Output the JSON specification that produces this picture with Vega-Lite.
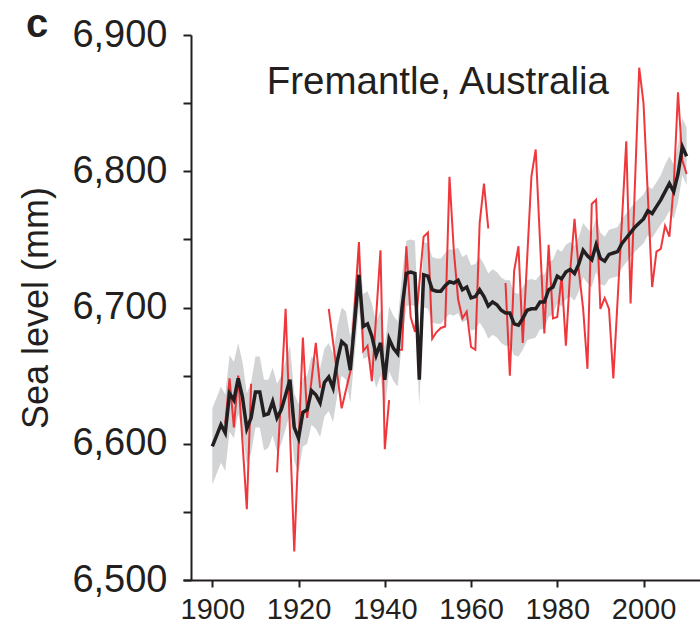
{
  "$schema": "https://vega.github.io/schema/vega-lite/v6.json",
  "width": 517,
  "height": 545,
  "autosize": {"type": "none"},
  "padding": {"left": 183, "top": 35, "right": 0, "bottom": 49},
  "background": "white",
  "title": {"text": "c", "anchor": "start", "frame": "group", "fontSize": 40, "fontWeight": "bold", "font": "Liberation Sans", "color": "#231f20", "dx": -157, "offset": -29},
  "config": {
    "view": {"stroke": null},
    "font": "Liberation Sans",
    "axis": {"grid": false, "domainColor": "#231f20", "tickColor": "#231f20", "labelColor": "#231f20", "titleColor": "#231f20", "labelFont": "Liberation Sans", "titleFont": "Liberation Sans"}
  },
  "datasets": {
    "recon": [
      {"year":1900,"mean":6598,"lo":6570,"hi":6626},{"year":1901,"mean":6606,"lo":6578,"hi":6634},{"year":1902,"mean":6614,"lo":6586,"hi":6642},{"year":1903,"mean":6608,"lo":6580,"hi":6636},{"year":1904,"mean":6637,"lo":6609,"hi":6665},{"year":1905,"mean":6632,"lo":6604,"hi":6660},{"year":1906,"mean":6648,"lo":6622,"hi":6674},{"year":1907,"mean":6634,"lo":6608,"hi":6660},{"year":1908,"mean":6611,"lo":6585,"hi":6637},{"year":1909,"mean":6619,"lo":6593,"hi":6645},{"year":1910,"mean":6638,"lo":6612,"hi":6664},{"year":1911,"mean":6638,"lo":6612,"hi":6664},{"year":1912,"mean":6621,"lo":6595,"hi":6647},{"year":1913,"mean":6622,"lo":6597,"hi":6647},{"year":1914,"mean":6631,"lo":6606,"hi":6656},{"year":1915,"mean":6619,"lo":6594,"hi":6644},{"year":1916,"mean":6625,"lo":6600,"hi":6650},{"year":1917,"mean":6636,"lo":6611,"hi":6661},{"year":1918,"mean":6647,"lo":6622,"hi":6672},{"year":1919,"mean":6612,"lo":6587,"hi":6637},{"year":1920,"mean":6604,"lo":6579,"hi":6629},{"year":1921,"mean":6623,"lo":6598,"hi":6648},{"year":1922,"mean":6625,"lo":6600,"hi":6650},{"year":1923,"mean":6639,"lo":6614,"hi":6664},{"year":1924,"mean":6636,"lo":6611,"hi":6661},{"year":1925,"mean":6630,"lo":6605,"hi":6655},{"year":1926,"mean":6645,"lo":6620,"hi":6670},{"year":1927,"mean":6649,"lo":6624,"hi":6674},{"year":1928,"mean":6641,"lo":6616,"hi":6666},{"year":1929,"mean":6661,"lo":6636,"hi":6686},{"year":1930,"mean":6675,"lo":6650,"hi":6700},{"year":1931,"mean":6672,"lo":6647,"hi":6697},{"year":1932,"mean":6654,"lo":6630,"hi":6678},{"year":1934,"mean":6724,"lo":6700,"hi":6748},{"year":1935,"mean":6686,"lo":6662,"hi":6710},{"year":1936,"mean":6688,"lo":6664,"hi":6712},{"year":1937,"mean":6679,"lo":6655,"hi":6703},{"year":1938,"mean":6665,"lo":6641,"hi":6689},{"year":1939,"mean":6674,"lo":6650,"hi":6698},{"year":1940,"mean":6647,"lo":6625,"hi":6671},{"year":1941,"mean":6677,"lo":6653,"hi":6701},{"year":1942,"mean":6670,"lo":6646,"hi":6694},{"year":1943,"mean":6666,"lo":6642,"hi":6690},{"year":1944,"mean":6700,"lo":6676,"hi":6724},{"year":1945,"mean":6725,"lo":6701,"hi":6749},{"year":1946,"mean":6726,"lo":6702,"hi":6750},{"year":1947,"mean":6725,"lo":6701,"hi":6749},{"year":1948,"mean":6647,"lo":6628,"hi":6668},{"year":1949,"mean":6724,"lo":6700,"hi":6748},{"year":1950,"mean":6723,"lo":6699,"hi":6747},{"year":1951,"mean":6713,"lo":6689,"hi":6737},{"year":1952,"mean":6712,"lo":6688,"hi":6736},{"year":1953,"mean":6712,"lo":6688,"hi":6736},{"year":1954,"mean":6716,"lo":6692,"hi":6740},{"year":1955,"mean":6719,"lo":6695,"hi":6743},{"year":1956,"mean":6718,"lo":6694,"hi":6742},{"year":1957,"mean":6720,"lo":6696,"hi":6744},{"year":1958,"mean":6713,"lo":6689,"hi":6737},{"year":1959,"mean":6715,"lo":6691,"hi":6739},{"year":1960,"mean":6707,"lo":6683,"hi":6731},{"year":1961,"mean":6708,"lo":6684,"hi":6732},{"year":1962,"mean":6713,"lo":6689,"hi":6737},{"year":1963,"mean":6708,"lo":6684,"hi":6732},{"year":1964,"mean":6701,"lo":6677,"hi":6725},{"year":1965,"mean":6704,"lo":6680,"hi":6728},{"year":1966,"mean":6702,"lo":6678,"hi":6726},{"year":1967,"mean":6698,"lo":6674,"hi":6722},{"year":1968,"mean":6696,"lo":6672,"hi":6720},{"year":1969,"mean":6696,"lo":6672,"hi":6720},{"year":1970,"mean":6688,"lo":6665,"hi":6711},{"year":1971,"mean":6687,"lo":6664,"hi":6710},{"year":1972,"mean":6692,"lo":6669,"hi":6715},{"year":1973,"mean":6698,"lo":6676,"hi":6720},{"year":1974,"mean":6699,"lo":6677,"hi":6721},{"year":1975,"mean":6699,"lo":6678,"hi":6720},{"year":1976,"mean":6704,"lo":6684,"hi":6724},{"year":1977,"mean":6704,"lo":6684,"hi":6724},{"year":1978,"mean":6713,"lo":6693,"hi":6733},{"year":1979,"mean":6715,"lo":6695,"hi":6735},{"year":1980,"mean":6723,"lo":6703,"hi":6743},{"year":1981,"mean":6721,"lo":6701,"hi":6741},{"year":1982,"mean":6726,"lo":6706,"hi":6746},{"year":1983,"mean":6728,"lo":6708,"hi":6748},{"year":1984,"mean":6725,"lo":6705,"hi":6745},{"year":1985,"mean":6732,"lo":6712,"hi":6752},{"year":1986,"mean":6742,"lo":6722,"hi":6762},{"year":1987,"mean":6738,"lo":6718,"hi":6758},{"year":1988,"mean":6735,"lo":6715,"hi":6755},{"year":1989,"mean":6746,"lo":6726,"hi":6766},{"year":1990,"mean":6736,"lo":6717,"hi":6755},{"year":1991,"mean":6734,"lo":6716,"hi":6752},{"year":1992,"mean":6739,"lo":6721,"hi":6757},{"year":1993,"mean":6740,"lo":6722,"hi":6758},{"year":1994,"mean":6741,"lo":6723,"hi":6759},{"year":1995,"mean":6747,"lo":6729,"hi":6765},{"year":1996,"mean":6751,"lo":6733,"hi":6769},{"year":1997,"mean":6755,"lo":6737,"hi":6773},{"year":1998,"mean":6759,"lo":6741,"hi":6777},{"year":1999,"mean":6762,"lo":6744,"hi":6780},{"year":2000,"mean":6765,"lo":6747,"hi":6783},{"year":2001,"mean":6771,"lo":6753,"hi":6789},{"year":2002,"mean":6769,"lo":6751,"hi":6787},{"year":2003,"mean":6774,"lo":6756,"hi":6792},{"year":2004,"mean":6779,"lo":6761,"hi":6797},{"year":2005,"mean":6785,"lo":6765,"hi":6805},{"year":2006,"mean":6791,"lo":6771,"hi":6811},{"year":2007,"mean":6785,"lo":6765,"hi":6805},{"year":2008,"mean":6798,"lo":6777,"hi":6819},{"year":2009,"mean":6818,"lo":6797,"hi":6839},{"year":2010,"mean":6811,"lo":6790,"hi":6832}
    ],
    "obs": [
      {"year":1903,"level":6615,"run":1},{"year":1904,"level":6648,"run":1},{"year":1905,"level":6612,"run":1},{"year":1906,"level":6650,"run":1},{"year":1908,"level":6552,"run":1},{"year":1909,"level":6644,"run":1},
      {"year":1915,"level":6579,"run":2},{"year":1917,"level":6699,"run":2},{"year":1919,"level":6521,"run":2},{"year":1921,"level":6678,"run":2},{"year":1922,"level":6619,"run":2},{"year":1924,"level":6674,"run":2},{"year":1925,"level":6641,"run":2},
      {"year":1927,"level":6699,"run":3},{"year":1930,"level":6626,"run":3},{"year":1932,"level":6653,"run":3},{"year":1934,"level":6748,"run":3},{"year":1935,"level":6668,"run":3},{"year":1936,"level":6672,"run":3},{"year":1937,"level":6646,"run":3},{"year":1939,"level":6742,"run":3},{"year":1940,"level":6596,"run":3},{"year":1941,"level":6632,"run":3},
      {"year":1943,"level":6669,"run":4},{"year":1944,"level":6669,"run":4},{"year":1945,"level":6745,"run":4},{"year":1946,"level":6693,"run":4},{"year":1947,"level":6682,"run":4},{"year":1949,"level":6752,"run":4},{"year":1950,"level":6755,"run":4},{"year":1951,"level":6677,"run":4},{"year":1952,"level":6682,"run":4},{"year":1953,"level":6685,"run":4},{"year":1954,"level":6686,"run":4},{"year":1955,"level":6796,"run":4},{"year":1956,"level":6742,"run":4},{"year":1957,"level":6706,"run":4},{"year":1958,"level":6692,"run":4},{"year":1959,"level":6697,"run":4},{"year":1960,"level":6671,"run":4},{"year":1961,"level":6669,"run":4},{"year":1962,"level":6762,"run":4},{"year":1963,"level":6791,"run":4},{"year":1964,"level":6758,"run":4},
      {"year":1968,"level":6718,"run":5},{"year":1969,"level":6650,"run":5},{"year":1970,"level":6727,"run":5},{"year":1971,"level":6745,"run":5},{"year":1972,"level":6674,"run":5},{"year":1974,"level":6796,"run":5},{"year":1975,"level":6816,"run":5},{"year":1977,"level":6681,"run":5},{"year":1978,"level":6746,"run":5},{"year":1979,"level":6692,"run":5},{"year":1980,"level":6693,"run":5},{"year":1981,"level":6723,"run":5},{"year":1982,"level":6672,"run":5},{"year":1983,"level":6727,"run":5},{"year":1984,"level":6765,"run":5},{"year":1985,"level":6727,"run":5},{"year":1986,"level":6699,"run":5},{"year":1987,"level":6655,"run":5},{"year":1988,"level":6776,"run":5},{"year":1989,"level":6779,"run":5},{"year":1990,"level":6699,"run":5},{"year":1991,"level":6707,"run":5},{"year":1992,"level":6699,"run":5},{"year":1993,"level":6648,"run":5},{"year":1996,"level":6822,"run":5},{"year":1997,"level":6703,"run":5},{"year":1999,"level":6876,"run":5},{"year":2000,"level":6850,"run":5},{"year":2002,"level":6715,"run":5},{"year":2003,"level":6741,"run":5},{"year":2004,"level":6743,"run":5},{"year":2005,"level":6760,"run":5},{"year":2006,"level":6752,"run":5},{"year":2007,"level":6789,"run":5},{"year":2008,"level":6858,"run":5},{"year":2009,"level":6808,"run":5},{"year":2010,"level":6798,"run":5}
    ],
    "labels": [
      {"label": "Fremantle, Australia", "year": 1952.3, "level": 6857}
    ]
  },
  "layer": [
    {
      "data": {"name": "recon"},
      "mark": {"type": "area", "color": "#d1d3d4", "opacity": 1},
      "encoding": {
        "x": {"field": "year", "type": "quantitative",
              "scale": {"domain": [1893.2, 2013.1], "nice": false, "zero": false},
              "axis": {"title": null, "values": [1900, 1920, 1940, 1960, 1980, 2000], "format": "d", "tickSize": 7, "tickWidth": 2, "domainWidth": 2, "labelFontSize": 29, "labelPadding": 8, "labelFlush": false, "labelOverlap": false}},
        "y": {"field": "lo", "type": "quantitative",
              "scale": {"domain": [6500, 6900], "nice": false, "zero": false},
              "axis": {"title": "Sea level (mm)", "values": [6500, 6550, 6600, 6650, 6700, 6750, 6800, 6850, 6900], "labelExpr": "datum.value % 100 === 0 ? format(datum.value, ',') : ''", "tickSize": 8, "tickWidth": 2, "domainWidth": 2, "labelFontSize": 38, "labelPadding": 16, "titleFontSize": 36, "titleFontWeight": "normal", "titlePadding": 16, "offset": -8, "labelFlush": false, "labelOverlap": false}},
        "y2": {"field": "hi"}
      }
    },
    {
      "data": {"name": "obs"},
      "mark": {"type": "line", "color": "#ec2227", "strokeWidth": 2, "opacity": 0.9},
      "encoding": {
        "x": {"field": "year", "type": "quantitative"},
        "y": {"field": "level", "type": "quantitative"},
        "detail": {"field": "run", "type": "nominal"}
      }
    },
    {
      "data": {"name": "recon"},
      "mark": {"type": "line", "color": "#231f20", "strokeWidth": 3.5},
      "encoding": {
        "x": {"field": "year", "type": "quantitative"},
        "y": {"field": "mean", "type": "quantitative"}
      }
    },
    {
      "data": {"name": "labels"},
      "mark": {"type": "text", "fontSize": 38.5, "font": "Liberation Sans", "color": "#231f20", "baseline": "alphabetic", "align": "center"},
      "encoding": {
        "x": {"field": "year", "type": "quantitative"},
        "y": {"field": "level", "type": "quantitative"},
        "text": {"field": "label"}
      }
    }
  ]
}
